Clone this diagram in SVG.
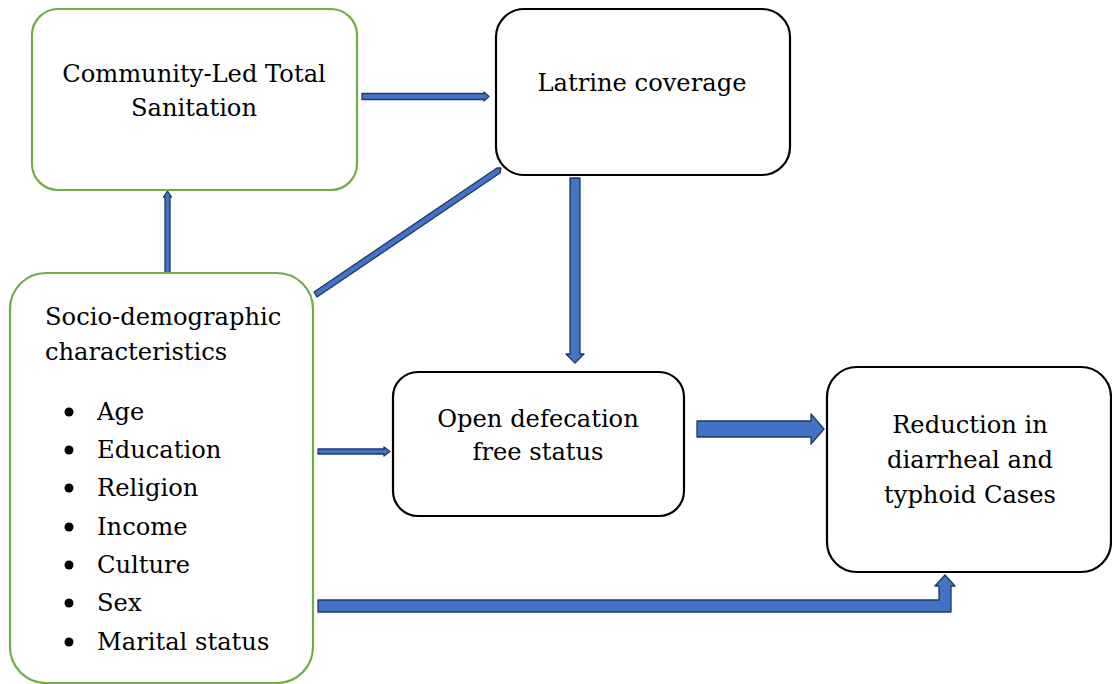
<svg xmlns="http://www.w3.org/2000/svg" width="1112" height="684" viewBox="0 0 1112 684">
<style>
.g{fill:#fff;stroke:#70AD47;stroke-width:2.2}
.k{fill:#fff;stroke:#000;stroke-width:2.2}
.t{font-family:"DejaVu Serif","Liberation Serif",serif;font-size:24.2px;fill:#000}
.c{text-anchor:middle}
.a{fill:#4472C4;stroke:#1F3864;stroke-width:1.3;stroke-linejoin:round}
</style>
<rect width="1112" height="684" fill="#fff"/>
<g id="connectors">
<polygon class="a" points="362,93.5 484,93.5 484,92 489,96.5 484,101 484,99.5 362,99.5"/>
<polygon class="a" points="165,273 165,197 163.5,197 167.5,191 171.5,197 170,197 170,273"/>
<polygon class="a" points="314,292 497,168 501,168 500,173 317,297"/>
<polygon class="a" points="570,178 580,178 580,354 584,354 575,363 566,354 570,354"/>
<polygon class="a" points="318,449 384,449 384,447 390,451.5 384,456 384,454 318,454"/>
<polygon class="a" points="697,421 811,421 811,414 824,429 811,444 811,437 697,437"/>
<polygon class="a" points="318,600 939,600 939,586 935,586 945,575 955,586 951,586 951,612 318,612"/>
</g>
<g id="clts">
<rect class="g" x="32" y="9" width="325" height="181" rx="26"/>
<text class="t c" x="194" y="82">Community-Led Total</text>
<text class="t c" x="194" y="116">Sanitation</text>
</g>
<g id="latrine">
<rect class="k" x="496" y="9" width="294" height="166" rx="28"/>
<text class="t c" x="642" y="91">Latrine coverage</text>
</g>
<g id="socio">
<rect class="g" x="10" y="273" width="303" height="410" rx="36"/>
<text class="t" x="45" y="325">Socio-demographic</text>
<text class="t" x="45" y="360">characteristics</text>
<circle cx="69" cy="412" r="4.5"/>
<circle cx="69" cy="450" r="4.5"/>
<circle cx="69" cy="488" r="4.5"/>
<circle cx="69" cy="527" r="4.5"/>
<circle cx="69" cy="565" r="4.5"/>
<circle cx="69" cy="603" r="4.5"/>
<circle cx="69" cy="642" r="4.5"/>
<text class="t" x="97" y="420">Age</text>
<text class="t" x="97" y="458">Education</text>
<text class="t" x="97" y="496">Religion</text>
<text class="t" x="97" y="535">Income</text>
<text class="t" x="97" y="573">Culture</text>
<text class="t" x="97" y="611">Sex</text>
<text class="t" x="97" y="650">Marital status</text>
</g>
<g id="odf">
<rect class="k" x="393" y="372" width="291" height="144" rx="25"/>
<text class="t c" x="538" y="427">Open defecation</text>
<text class="t c" x="538" y="460">free status</text>
</g>
<g id="reduction">
<rect class="k" x="827" y="367" width="284" height="205" rx="30"/>
<text class="t c" x="970" y="433">Reduction in</text>
<text class="t c" x="970" y="468">diarrheal and</text>
<text class="t c" x="970" y="503">typhoid Cases</text>
</g>
</svg>
